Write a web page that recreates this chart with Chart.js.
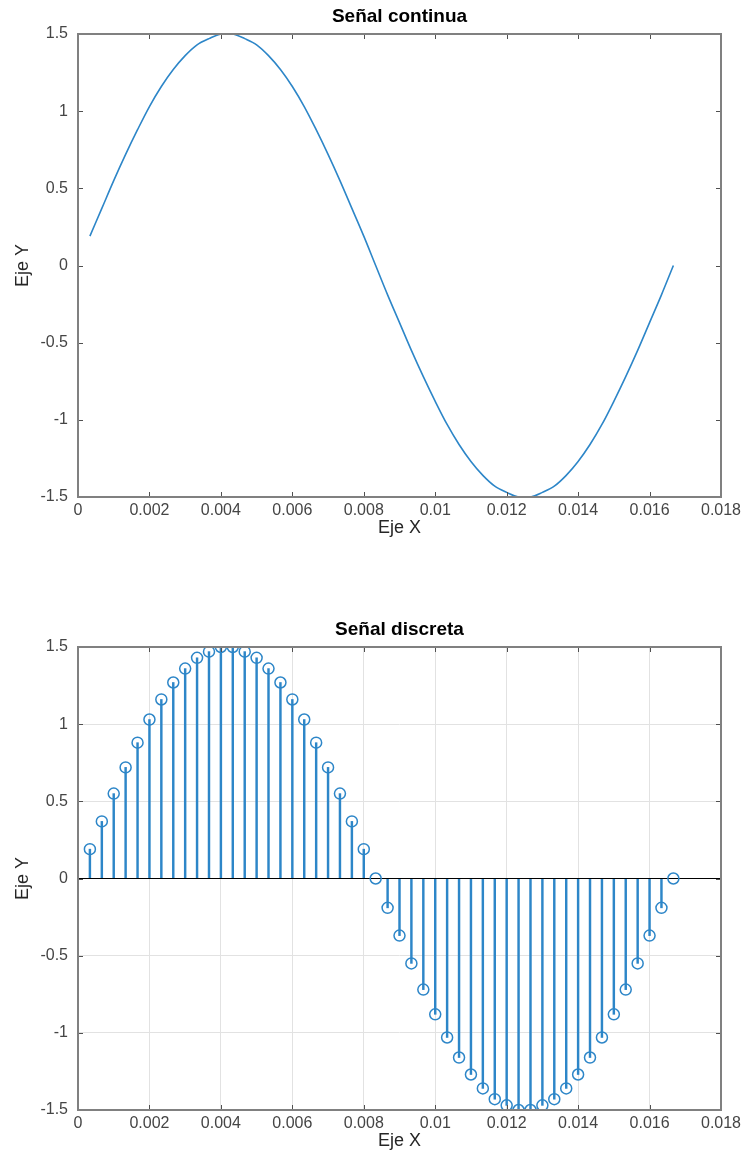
<!DOCTYPE html>
<html>
<head>
<meta charset="utf-8">
<script src="https://cdn.jsdelivr.net/npm/chart.js@4.4.1/dist/chart.umd.min.js"></script>
<style>
    html, body { margin: 0; padding: 0; background: #fff; overflow: hidden; }
    canvas { position: absolute; left: 0; }
    #continuousChart { top: 0; }
    #discreteChart { top: 613px; }
</style>
</head>
<body>
<canvas id="continuousChart" width="748" height="560"></canvas>
<canvas id="discreteChart" width="748" height="560"></canvas>
<script>
// Sample times (s)
const sampleTimes = [
    0.000333, 0.000667, 0.001, 0.001333, 0.001667, 0.002, 0.002333, 0.002667, 0.003, 0.003333,
    0.003667, 0.004, 0.004333, 0.004667, 0.005, 0.005333, 0.005667, 0.006, 0.006333, 0.006667,
    0.007, 0.007333, 0.007667, 0.008, 0.008333, 0.008667, 0.009, 0.009333, 0.009667, 0.01,
    0.010333, 0.010667, 0.011, 0.011333, 0.011667, 0.012, 0.012333, 0.012667, 0.013, 0.013333,
    0.013667, 0.014, 0.014333, 0.014667, 0.015, 0.015333, 0.015667, 0.016, 0.016333, 0.016667
];

// Signal values at each sample
const signalValues = [
    0.19, 0.37, 0.55, 0.72, 0.88, 1.03, 1.16, 1.27, 1.36, 1.43,
    1.47, 1.50, 1.50, 1.47, 1.43, 1.36, 1.27, 1.16, 1.03, 0.88,
    0.72, 0.55, 0.37, 0.19, 0, -0.19, -0.37, -0.55, -0.72, -0.88,
    -1.03, -1.16, -1.27, -1.36, -1.43, -1.47, -1.50, -1.50, -1.47, -1.43,
    -1.36, -1.27, -1.16, -1.03, -0.88, -0.72, -0.55, -0.37, -0.19, 0
];

// Tick labels
const xTicks = [0, 0.002, 0.004, 0.006, 0.008, 0.01, 0.012, 0.014, 0.016, 0.018];
const yTicks = [-1.5, -1, -0.5, 0, 0.5, 1, 1.5];

const FONT = "'Liberation Sans', Arial, Helvetica, sans-serif";
const lineBlue = '#2d86c8';

function formatTick(v) {
    return String(+Number(v).toFixed(4));
}

function points() {
    return sampleTimes.map((t, i) => ({ x: t, y: signalValues[i] }));
}

// box round the plot and small ticks pointing inwards
const matlabAxes = {
    id: 'matlabAxes',
    afterDraw(chart) {
        const { ctx, chartArea: a, scales: { x, y } } = chart;
        ctx.save();
        ctx.strokeStyle = '#505050';
        ctx.lineWidth = 1;
        ctx.beginPath();
        x.ticks.forEach(t => {
            const px = Math.round(x.getPixelForValue(t.value)) + 0.5;
            ctx.moveTo(px, a.bottom); ctx.lineTo(px, a.bottom - 5);
            ctx.moveTo(px, a.top); ctx.lineTo(px, a.top + 5);
        });
        y.ticks.forEach(t => {
            const py = Math.round(y.getPixelForValue(t.value)) + 0.5;
            ctx.moveTo(a.left, py); ctx.lineTo(a.left + 5, py);
            ctx.moveTo(a.right, py); ctx.lineTo(a.right - 5, py);
        });
        ctx.stroke();
        ctx.strokeStyle = '#808080';
        ctx.lineWidth = 2;
        ctx.strokeRect(a.left, a.top, a.right - a.left, a.bottom - a.top);
        ctx.restore();
    }
};

function chartOptions(title, showGrid) {
    return {
        responsive: false,
        animation: false,
        layout: { padding: { left: 0, right: 27, top: 0, bottom: 0 } },
        plugins: {
            legend: { display: false },
            tooltip: { enabled: false },
            title: {
                display: true,
                fullSize: false,
                text: title,
                color: '#000',
                font: { family: FONT, size: 19, weight: 'bold' },
                padding: { top: 5.6, bottom: 5.6 }
            }
        },
        scales: {
            x: {
                type: 'linear',
                min: xTicks[0],
                max: xTicks[xTicks.length - 1],
                offset: false,
                afterBuildTicks: s => { s.ticks = xTicks.map(v => ({ value: v })); },
                afterFit: s => { s.height = 63; },
                ticks: {
                    callback: formatTick,
                    color: '#454545',
                    font: { family: FONT, size: 16 },
                    padding: 4.4,
                    maxRotation: 0,
                    autoSkip: false
                },
                grid: { display: showGrid, drawTicks: false, color: '#e2e2e2', offset: false },
                border: { display: false },
                title: {
                    display: true,
                    text: 'Eje X',
                    color: '#262626',
                    font: { family: FONT, size: 18 },
                    padding: { top: 0, bottom: 21 }
                }
            },
            y: {
                type: 'linear',
                min: yTicks[0],
                max: yTicks[yTicks.length - 1],
                afterBuildTicks: s => { s.ticks = yTicks.map(v => ({ value: v })); },
                afterFit: s => { s.width = 78; },
                ticks: {
                    callback: formatTick,
                    color: '#454545',
                    font: { family: FONT, size: 16 },
                    padding: 10,
                    autoSkip: false
                },
                grid: { display: showGrid, drawTicks: false, color: '#e2e2e2' },
                border: { display: false },
                title: {
                    display: true,
                    text: 'Eje Y',
                    color: '#262626',
                    font: { family: FONT, size: 18 },
                    padding: { top: 12, bottom: 0 }
                }
            }
        }
    };
}

// Continuous signal
function createContinuousChart() {
    const ctx = document.getElementById('continuousChart').getContext('2d');
    new Chart(ctx, {
        type: 'line',
        data: {
            datasets: [{
                data: points(),
                borderColor: lineBlue,
                borderWidth: 1.6,
                pointRadius: 0,
                tension: 0.35,
                fill: false
            }]
        },
        options: chartOptions('Señal continua', false),
        plugins: [matlabAxes]
    });
}

// Discrete signal (stem plot)
function createDiscreteChart() {
    const ctx = document.getElementById('discreteChart').getContext('2d');
    new Chart(ctx, {
        type: 'scatter',
        data: {
            datasets: [
                {
                    type: 'scatter',
                    data: points(),
                    pointRadius: 5.5,
                    pointBorderWidth: 1.5,
                    pointBorderColor: lineBlue,
                    pointBackgroundColor: 'rgba(0,0,0,0)',
                    order: 0
                },
                {
                    type: 'line',
                    data: [{ x: xTicks[0], y: 0 }, { x: xTicks[xTicks.length - 1], y: 0 }],
                    borderColor: '#000',
                    borderWidth: 1.2,
                    pointRadius: 0,
                    order: 1
                },
                {
                    type: 'bar',
                    data: points(),
                    backgroundColor: lineBlue,
                    barThickness: 1.8,
                    order: 2
                }
            ]
        },
        options: chartOptions('Señal discreta', true),
        plugins: [matlabAxes]
    });
}

document.addEventListener('DOMContentLoaded', () => {
    createContinuousChart();
    createDiscreteChart();
});
</script>
</body>
</html>
